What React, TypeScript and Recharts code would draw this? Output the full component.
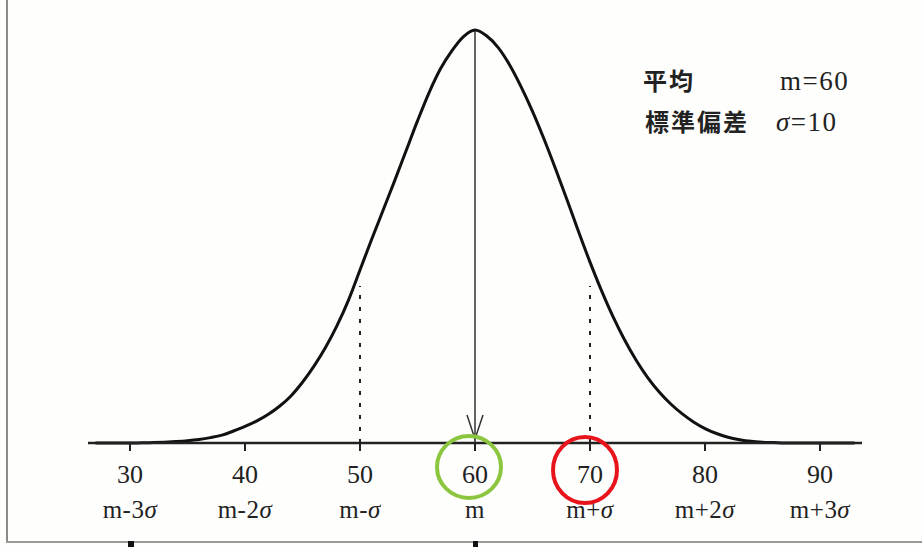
import { ComposedChart, Line, XAxis, YAxis, ReferenceLine, ReferenceDot } from "recharts";

// score axis (x) and the curve's height (peak = 100)
const scores = [
  27, 28, 29, 30, 31, 32, 33, 34, 35, 36, 37, 38, 39, 40, 41, 42, 43, 44, 45, 46,
  47, 48, 49, 50, 51, 52, 53, 54, 55, 56, 57, 58, 59, 60, 61, 62, 63, 64, 65, 66,
  67, 68, 69, 70, 71, 72, 73, 74, 75, 76, 77, 78, 79, 80, 81, 82, 83, 84, 85, 86,
  87, 88, 89, 90, 91, 92, 93,
];
const heights = [
  0, 0, 0, 0, 0.05, 0.1, 0.2, 0.35, 0.55, 0.85, 1.3, 1.9, 2.9, 4.0, 5.3, 6.9, 8.9, 11.4, 14.7, 18.6,
  23.1, 28.4, 34.6, 41.9, 49.2, 56.3, 63.4, 70.7, 78.0, 84.8, 90.6, 95.0, 98.4, 100, 98.6, 95.8, 91.6, 86.3, 80.3, 73.6,
  66.4, 58.9, 51.2, 43.8, 36.9, 30.6, 25.0, 20.1, 15.9, 12.4, 9.5, 7.1, 5.1, 3.5, 2.3, 1.4, 0.8, 0.4, 0.2, 0.1,
  0, 0, 0, 0, 0, 0, 0,
];

const tickValues = [30, 40, 50, 60, 70, 80, 90];
const tickNames = ["m-3σ", "m-2σ", "m-σ", "m", "m+σ", "m+2σ", "m+3σ"];

const mean = 60;
const peak = 100;
const sigmaMarks = [50, 70];
const sigmaMarkTop = 38;

const ringColors: Record<number, string> = { 60: "#8cc63f", 70: "#e8141b" };

const data = scores.map((s, i) => ({ score: s, h: heights[i] }));

const serif = "'Liberation Serif', 'DejaVu Serif', serif";
const cjk = "'Noto Sans CJK JP', 'Noto Sans CJK SC', sans-serif";

function SigmaText({ text }: { text: string }) {
  const parts = text.split("σ");
  return (
    <>
      {parts.map((p, i) => (
        <tspan key={i}>
          {p}
          {i < parts.length - 1 && <tspan fontStyle="italic">σ</tspan>}
        </tspan>
      ))}
    </>
  );
}

function Tick(props: any) {
  const { x, y, payload } = props;
  const v = payload.value;
  const name = tickNames[tickValues.indexOf(v)];
  const ring = ringColors[v];
  return (
    <g transform={`translate(${x},${y})`}>
      {ring && (
        <ellipse
          cx={v === 60 ? -6 : -5}
          cy={v === 60 ? 16 : 19}
          rx={32}
          ry={v === 60 ? 31 : 33}
          fill="none"
          stroke={ring}
          strokeWidth={4}
        />
      )}
      <text textAnchor="middle" y={32} fontSize={26} fontFamily={serif} fill="#222">
        {v}
      </text>
      <text textAnchor="middle" y={67} fontSize={25} fontFamily={serif} fill="#222" letterSpacing={0.5}>
        <SigmaText text={name} />
      </text>
    </g>
  );
}

function ArrowHead(props: any) {
  const { cx, cy } = props;
  return (
    <path
      d={`M${cx - 8},${cy - 28} L${cx},${cy - 4} L${cx + 8},${cy - 28}`}
      fill="none"
      stroke="#333"
      strokeWidth={1.5}
    />
  );
}

export default function App() {
  return (
    <div style={{ position: "relative", width: 922, height: 547, background: "#fefefd" }}>
      <style>{"body{margin:0}"}</style>
      <ComposedChart
        width={922}
        height={547}
        data={data}
        margin={{ top: 30, right: 60, bottom: 0, left: 88 }}
      >
        <XAxis
          dataKey="score"
          type="number"
          domain={[26.35, 93.65]}
          ticks={tickValues}
          interval={0}
          height={104}
          tickSize={8}
          tickMargin={0}
          axisLine={{ stroke: "#222", strokeWidth: 2.5 }}
          tickLine={{ stroke: "#222", strokeWidth: 2 }}
          tick={<Tick />}
        />
        <YAxis type="number" domain={[0, peak]} hide width={0} />
        {sigmaMarks.map((m) => (
          <ReferenceLine
            key={m}
            segment={[
              { x: m, y: 0 },
              { x: m, y: sigmaMarkTop },
            ]}
            stroke="#222"
            strokeWidth={2}
            strokeDasharray="4 8"
          />
        ))}
        <ReferenceLine
          segment={[
            { x: mean, y: 0 },
            { x: mean, y: peak },
          ]}
          stroke="#333"
          strokeWidth={1.5}
        />
        <ReferenceDot x={mean} y={0} shape={<ArrowHead />} />
        <Line
          type="monotone"
          dataKey="h"
          stroke="#111"
          strokeWidth={3}
          dot={false}
          isAnimationActive={false}
        />
      </ComposedChart>

      <svg
        width={922}
        height={547}
        style={{ position: "absolute", left: 0, top: 0, pointerEvents: "none" }}
      >
        <text x={643} y={90} fontSize={24} fontFamily={cjk} fontWeight={700} letterSpacing={2} fill="#222">
          平均
        </text>
        <text x={780} y={90} fontSize={27} fontFamily={serif} letterSpacing={1.5} fill="#222">
          m=60
        </text>
        <text x={645} y={131} fontSize={24} fontFamily={cjk} fontWeight={700} letterSpacing={2} fill="#222">
          標準偏差
        </text>
        <text x={776} y={131} fontSize={27} fontFamily={serif} letterSpacing={1.5} fill="#222">
          <tspan fontStyle="italic">σ</tspan>=10
        </text>
      </svg>

      <div style={{ position: "absolute", left: 6, top: 0, width: 2, height: 542, background: "#8a8a8a" }} />
      <div style={{ position: "absolute", left: 6, top: 541, width: 916, height: 2, background: "#9a9a9a" }} />
      <div style={{ position: "absolute", left: 128, top: 541, width: 6, height: 6, background: "#111" }} />
      <div style={{ position: "absolute", left: 473, top: 541, width: 5, height: 6, background: "#111" }} />
    </div>
  );
}
